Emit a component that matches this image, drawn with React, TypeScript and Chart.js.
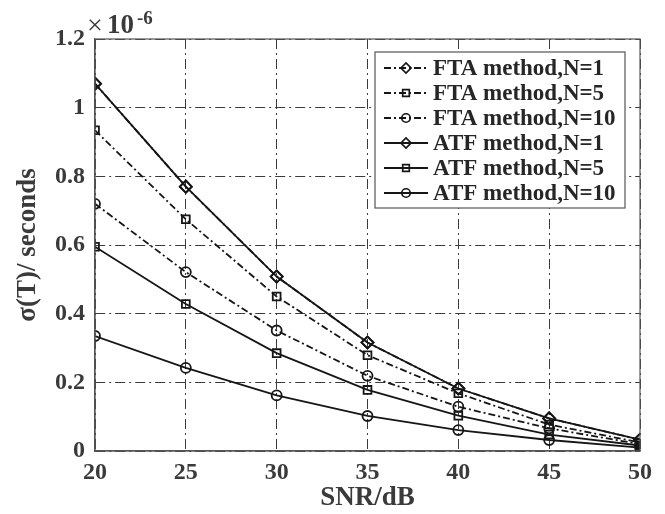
import React, { useEffect, useRef } from "react";
import { Chart, registerables } from "chart.js";

Chart.register(...registerables);

const snr = [20, 25, 30, 35, 40, 45, 50];
const ftaN1 = [1.07, 0.77, 0.508, 0.316, 0.182, 0.095, 0.033];
const ftaN5 = [0.934, 0.675, 0.45, 0.279, 0.168, 0.077, 0.025];
const ftaN10 = [0.72, 0.521, 0.351, 0.219, 0.129, 0.066, 0.02];
const atfN1 = [1.07, 0.77, 0.508, 0.316, 0.182, 0.095, 0.033];
const atfN5 = [0.595, 0.428, 0.285, 0.178, 0.103, 0.048, 0.016];
const atfN10 = [0.335, 0.242, 0.162, 0.102, 0.061, 0.032, 0.01];
const yTicks = [0, 0.2, 0.4, 0.6, 0.8, 1, 1.2];
const legendLabels = [
  "FTA method,N=1",
  "FTA method,N=5",
  "FTA method,N=10",
  "ATF method,N=1",
  "ATF method,N=5",
  "ATF method,N=10",
];

const LINE = "#161616";
const TEXT = "#3a3a3a";
const GRID = "#3a3a3a";
const FONT = "'Liberation Serif', 'Times New Roman', serif";
const DASH = [7, 3, 2, 3];
const GRID_DASH = [10, 4, 2, 4];

const series = [
  { label: legendLabels[0], data: ftaN1, style: "rectRot", r: 6, dash: DASH },
  { label: legendLabels[1], data: ftaN5, style: "rect", r: 5.5, dash: DASH },
  { label: legendLabels[2], data: ftaN10, style: "circle", r: 5, dash: DASH },
  { label: legendLabels[3], data: atfN1, style: "rectRot", r: 6, dash: [] },
  { label: legendLabels[4], data: atfN5, style: "rect", r: 5.5, dash: [] },
  { label: legendLabels[5], data: atfN10, style: "circle", r: 5, dash: [] },
];

const drawMarker = (ctx: CanvasRenderingContext2D, style: string, x: number, y: number, r: number) => {
  ctx.beginPath();
  if (style === "circle") {
    ctx.arc(x, y, r, 0, Math.PI * 2);
  } else if (style === "rect") {
    const s = r * Math.SQRT1_2;
    ctx.rect(x - s, y - s, 2 * s, 2 * s);
  } else {
    ctx.moveTo(x - r, y);
    ctx.lineTo(x, y - r);
    ctx.lineTo(x + r, y);
    ctx.lineTo(x, y + r);
    ctx.closePath();
  }
  ctx.stroke();
};

const decorPlugin = {
  id: "decor",
  afterDraw(chart: any) {
    const { ctx, chartArea: ca } = chart;
    ctx.save();
    // plot box
    ctx.strokeStyle = "#555";
    ctx.lineWidth = 1.2;
    ctx.setLineDash([]);
    ctx.strokeRect(ca.left, ca.top, ca.right - ca.left, ca.bottom - ca.top);

    // exponent label
    ctx.fillStyle = TEXT;
    ctx.textBaseline = "alphabetic";
    ctx.textAlign = "left";
    ctx.font = `28px ${FONT}`;
    ctx.fillText("\u00d7", ca.left - 8, ca.top - 5);
    ctx.font = `bold 27px ${FONT}`;
    ctx.fillText("10", ca.left + 12, ca.top - 6);
    ctx.font = `bold 19px ${FONT}`;
    ctx.fillText("-6", ca.left + 42, ca.top - 15);

    // legend
    const bw = 250;
    const bh = 156;
    const bx = ca.right - 15 - bw;
    const by = ca.top + 13;
    ctx.fillStyle = "#fff";
    ctx.fillRect(bx, by, bw, bh);
    ctx.strokeStyle = "#555";
    ctx.lineWidth = 1.2;
    ctx.strokeRect(bx, by, bw, bh);
    ctx.font = `bold 23px ${FONT}`;
    ctx.textBaseline = "middle";
    series.forEach((s, i) => {
      const y = by + 16 + i * 25;
      ctx.strokeStyle = LINE;
      ctx.lineWidth = 1.8;
      ctx.setLineDash(s.dash);
      ctx.beginPath();
      ctx.moveTo(bx + 9, y);
      ctx.lineTo(bx + 53, y);
      ctx.stroke();
      ctx.setLineDash([]);
      ctx.lineWidth = 1.7;
      drawMarker(ctx, s.style, bx + 31, y, s.r * 0.85);
      ctx.fillStyle = "#262626";
      ctx.fillText(s.label, bx + 58, y + 1);
    });
    ctx.restore();
  },
};

export default function App() {
  const ref = useRef<HTMLCanvasElement | null>(null);
  useEffect(() => {
    if (!ref.current) return;
    const chart = new Chart(ref.current, {
      type: "line",
      data: {
        labels: snr,
        datasets: series.map((s) => ({
          label: s.label,
          data: snr.map((x, i) => ({ x, y: s.data[i] })),
          borderColor: LINE,
          borderWidth: 1.8,
          borderDash: s.dash,
          pointStyle: s.style as any,
          pointRadius: s.r,
          pointBorderColor: LINE,
          pointBackgroundColor: "rgba(0,0,0,0)",
          pointBorderWidth: 1.8,
          tension: 0,
          fill: false,
        })),
      },
      options: {
        animation: false,
        responsive: false,
        maintainAspectRatio: false,
        layout: { padding: { top: 39, right: 25, left: 0, bottom: 0 } },
        plugins: { legend: { display: false }, tooltip: { enabled: false } },
        scales: {
          x: {
            type: "linear",
            min: 20,
            max: 50,
            afterBuildTicks: (scale: any) => {
              scale.ticks = snr.map((v) => ({ value: v }));
            },
            afterFit: (scale: any) => {
              scale.height = 63;
            },
            ticks: {
              color: TEXT,
              font: { family: FONT, size: 24, weight: "bold" },
              padding: 7,
              maxRotation: 0,
            },
            grid: {
              color: GRID,
              lineWidth: 1,
              drawTicks: false,
              borderDash: GRID_DASH,
            } as any,
            border: { display: true, color: "#555", width: 1.2, dash: GRID_DASH } as any,
            title: {
              display: true,
              text: "SNR/dB",
              color: TEXT,
              font: { family: FONT, size: 27, weight: "bold" },
              padding: { top: 0, bottom: 0 },
            },
          },
          y: {
            type: "linear",
            min: 0,
            max: 1.2,
            afterBuildTicks: (scale: any) => {
              scale.ticks = yTicks.map((v) => ({ value: v }));
            },
            afterFit: (scale: any) => {
              scale.width = 95;
            },
            ticks: {
              color: TEXT,
              font: { family: FONT, size: 24, weight: "bold" },
              padding: 10,
              callback: (v: any) => String(Number(Number(v).toFixed(1))),
            },
            grid: {
              color: GRID,
              lineWidth: 1,
              drawTicks: false,
              borderDash: GRID_DASH,
            } as any,
            border: { display: true, color: "#555", width: 1.2, dash: GRID_DASH } as any,
            title: {
              display: true,
              text: "\u03c3(T)/ seconds",
              color: TEXT,
              font: { family: FONT, size: 27, weight: "bold" },
              padding: { top: 12, bottom: 0 },
            },
          },
        },
      },
      plugins: [decorPlugin],
    });
    return () => chart.destroy();
  }, []);
  return (
    <div style={{ position: "absolute", left: 0, top: 0, width: 665, height: 514, background: "#fff" }}>
      <canvas ref={ref} width={665} height={514} style={{ width: 665, height: 514, display: "block" }} />
    </div>
  );
}
